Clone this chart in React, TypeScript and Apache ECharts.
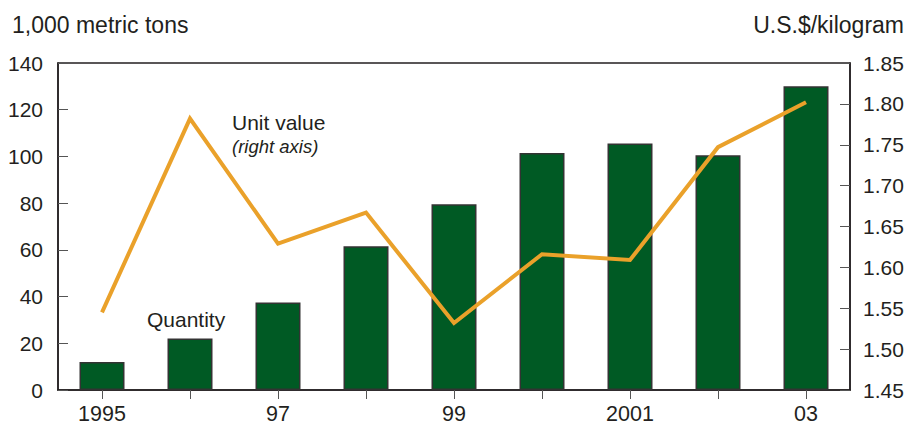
import React, { useEffect, useRef } from "react";
import * as echarts from "echarts";

const categories = ["1995", "1996", "97", "1998", "99", "2000", "2001", "2002", "03"];
const tickLabels = ["1995", "", "97", "", "99", "", "2001", "", "03"];
const quantity = [12, 22, 37.5, 61.5, 79.5, 101.5, 105.5, 100.5, 130];
const unitValue = [1.545, 1.782, 1.629, 1.667, 1.532, 1.616, 1.609, 1.747, 1.802];

const FONT = "'Liberation Sans', Arial, Helvetica, sans-serif";
const TXT = "#231f20";

export default function App() {
  const ref = useRef<HTMLDivElement>(null);
  useEffect(() => {
    if (!ref.current) return;
    document.body.style.margin = "0";
    const chart = echarts.init(ref.current, undefined, { renderer: "svg" });
    chart.setOption({
      animation: false,
      backgroundColor: "#ffffff",
      textStyle: { fontFamily: FONT },
      grid: {
        left: 58,
        right: 59,
        top: 63,
        bottom: 35,
        show: true,
        borderColor: "#231f20",
        borderWidth: 1.5,
        backgroundColor: "transparent",
      },
      xAxis: {
        type: "category",
        data: categories,
        boundaryGap: true,
        axisLine: { show: true, lineStyle: { color: "#231f20", width: 1.5 } },
        axisTick: { show: true, alignWithLabel: true, inside: false, length: 9, lineStyle: { color: "#555", width: 1 } },
        axisLabel: {
          color: TXT,
          fontSize: 21.5,
          fontFamily: FONT,
          margin: 13,
          interval: 0,
          formatter: (_v: string, i: number) => tickLabels[i],
        },
        splitLine: { show: false },
      },
      yAxis: [
        {
          type: "value",
          min: 0,
          max: 140,
          interval: 20,
          position: "left",
          axisLine: { show: true, lineStyle: { color: "#231f20", width: 1.5 } },
          axisTick: { show: true, inside: true, length: 10, lineStyle: { color: "#555", width: 1 } },
          axisLabel: { color: TXT, fontSize: 21, fontFamily: FONT, margin: 15 },
          splitLine: { show: false },
        },
        {
          type: "value",
          min: 1.45,
          max: 1.85,
          interval: 0.05,
          position: "right",
          axisLine: { show: true, lineStyle: { color: "#231f20", width: 1.5 } },
          axisTick: { show: true, inside: true, length: 10, lineStyle: { color: "#555", width: 1 } },
          axisLabel: {
            color: TXT,
            fontSize: 21,
            fontFamily: FONT,
            margin: 13,
            formatter: (v: number) => v.toFixed(2),
          },
          splitLine: { show: false },
        },
      ],
      series: [
        {
          name: "Quantity",
          type: "bar",
          yAxisIndex: 0,
          data: quantity,
          barWidth: 45,
          itemStyle: { color: "#005a24", borderColor: "#333333", borderWidth: 1.5 },
        },
        {
          name: "Unit value",
          type: "line",
          yAxisIndex: 1,
          data: unitValue,
          showSymbol: false,
          symbol: "none",
          lineStyle: { color: "#eaa12a", width: 4, join: "miter" },
          z: 5,
        },
      ],
      graphic: [
        {
          type: "text",
          x: 12,
          y: 24.5,
          style: { text: "1,000 metric tons", fontSize: 23, fontFamily: FONT, fill: TXT, verticalAlign: "middle" },
        },
        {
          type: "text",
          x: 904,
          y: 24.5,
          style: { text: "U.S.$/kilogram", fontSize: 23, fontFamily: FONT, fill: TXT, align: "right", verticalAlign: "middle" },
        },
        {
          type: "text",
          x: 232,
          y: 122.5,
          style: { text: "Unit value", fontSize: 21, fontFamily: FONT, fill: TXT, verticalAlign: "middle" },
        },
        {
          type: "text",
          x: 232,
          y: 146,
          style: { text: "(right axis)", fontSize: 18.5, fontStyle: "italic", fontFamily: FONT, fill: TXT, verticalAlign: "middle" },
        },
        {
          type: "text",
          x: 147,
          y: 319.5,
          style: { text: "Quantity", fontSize: 21, fontFamily: FONT, fill: TXT, verticalAlign: "middle" },
        },
      ],
    });
    return () => chart.dispose();
  }, []);
  return <div ref={ref} style={{ position: "fixed", left: 0, top: 0, width: 909, height: 425 }} />;
}
